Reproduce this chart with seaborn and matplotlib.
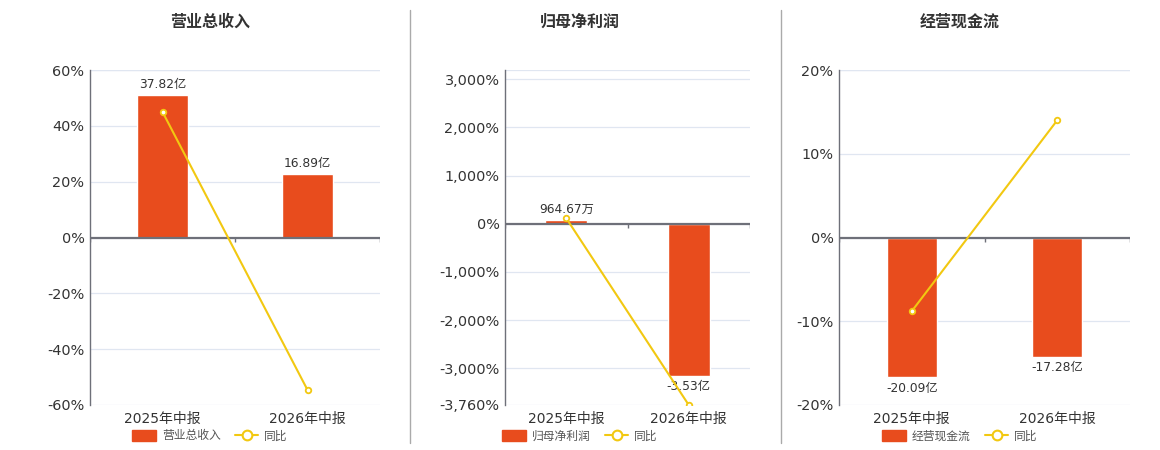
import numpy as np
import pandas as pd
import matplotlib
matplotlib.use("Agg")
import matplotlib.pyplot as plt
import seaborn as sns
from matplotlib.patches import Patch
from matplotlib.lines import Line2D

# 数据
periods = ["2025年中报", "2026年中报"]
titles = ["营业总收入", "归母净利润", "经营现金流"]
bar_labels_1 = ["37.82亿", "16.89亿"]
bar_labels_2 = ["964.67万", "-3.53亿"]
bar_labels_3 = ["-20.09亿", "-17.28亿"]
bar_height_1 = [51.0, 22.8]          # 柱高（按纵轴刻度）
bar_height_2 = [86.0, -3150.0]
bar_height_3 = [-16.7, -14.3]
yoy_1 = [45.0, -54.6]                # 同比 %
yoy_2 = [115.0, -3760.0]
yoy_3 = [-8.8, 14.0]
yticks_1 = [-60, -40, -20, 0, 20, 40, 60]
yticks_2 = [-3760, -3000, -2000, -1000, 0, 1000, 2000, 3000]
yticks_3 = [-20, -10, 0, 10, 20]
ylim_1 = (-60, 60)
ylim_2 = (-3760, 3190)
ylim_3 = (-20, 20)

BAR = "#E84C1D"
LINE = "#F2C811"
GRID = "#E0E6F1"
AXIS = "#6E7079"
TXT = "#333333"

sns.set_theme(style="white")
plt.rcParams['font.family'] = ['DejaVu Sans', 'Noto Sans CJK SC']

fig = plt.figure(figsize=(11.6, 4.5), dpi=100)

panels = [
    (titles[0], bar_height_1, bar_labels_1, yoy_1, yticks_1, ylim_1, [90, 380], 210),
    (titles[1], bar_height_2, bar_labels_2, yoy_2, yticks_2, ylim_2, [505, 750], 580),
    (titles[2], bar_height_3, bar_labels_3, yoy_3, yticks_3, ylim_3, [839, 1130], 960),
]

W, H = 1160, 450
for title, heights, labels, yoy, yticks, ylim, xr, tc in panels:
    ax = fig.add_axes([xr[0] / W, 1 - 405 / H, (xr[1] - xr[0]) / W, (405 - 70) / H])
    df = pd.DataFrame({"period": periods, "value": heights, "yoy": yoy})
    sns.barplot(data=df, x="period", y="value", color=BAR, width=0.345,
                saturation=1, ax=ax, zorder=2)
    ax.bar_label(ax.containers[0], labels=labels, padding=3, fontsize=8.8, color=TXT)
    sns.pointplot(data=df, x="period", y="yoy", color=LINE, errorbar=None,
                  markers="o", markersize=4, markerfacecolor="white",
                  markeredgewidth=1.3, linewidth=1.5, ax=ax, zorder=4)
    ax.set_ylim(*ylim)
    ax.set_xlim(-0.5, 1.5)
    ax.set_yticks(yticks)
    ax.set_yticklabels([f"{v:,.0f}%" for v in yticks], fontsize=10.4, color=TXT)
    ax.tick_params(axis="y", length=0, pad=4)
    ax.tick_params(axis="x", length=0, pad=5, labelsize=10, labelcolor=TXT)
    ax.set_xlabel("")
    ax.set_ylabel("")
    for v in yticks:
        ax.axhline(v, color=GRID, lw=0.9, zorder=0)
    ax.axhline(ylim[1], color=GRID, lw=0.9, zorder=0)
    ax.axhline(0, color=AXIS, lw=1.6, zorder=3)
    span = ylim[1] - ylim[0]
    ax.vlines([-0.5, 0.5, 1.5], 0, -span * 0.012, color=AXIS, lw=1, zorder=3)
    for s in ["top", "right", "bottom"]:
        ax.spines[s].set_visible(False)
    ax.spines["left"].set_color(AXIS)
    ax.spines["left"].set_linewidth(1)

    fig.text(tc / W, 1 - 22 / H, title, ha="center", va="center",
             fontsize=11.5, fontweight="bold", color=TXT)
    handles = [Patch(facecolor=BAR, edgecolor=BAR),
               Line2D([0], [0], color=LINE, lw=1.5, marker="o", markersize=7,
                      markerfacecolor="white", markeredgewidth=1.5)]
    fig.legend(handles, [title, "同比"], loc="center", bbox_to_anchor=(tc / W, 1 - 436 / H),
               ncol=2, frameon=False, fontsize=8.5, handlelength=2.0, handleheight=1.0,
               columnspacing=1.2, handletextpad=0.5, labelcolor="#555555")

for x in [410, 781]:
    fig.add_artist(Line2D([x / W, x / W], [1 - 10 / H, 1 - 443 / H],
                          transform=fig.transFigure, color="#AAAAAA", lw=1))

fig.savefig("out.png", dpi=100)
